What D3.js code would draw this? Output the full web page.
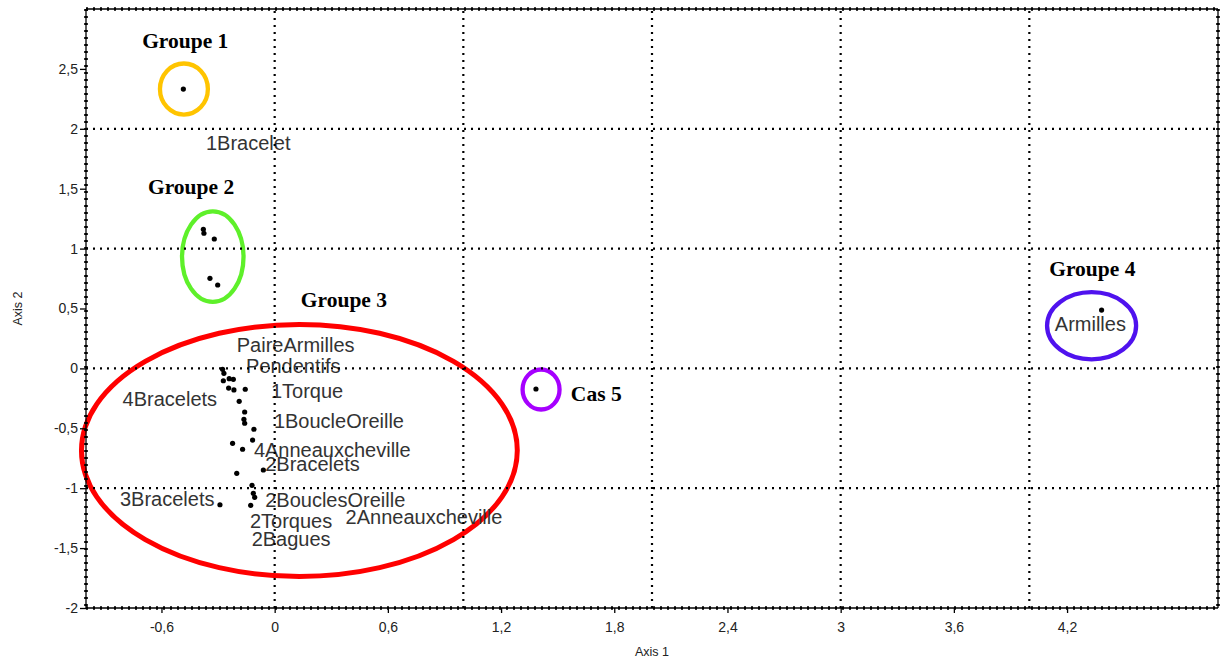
<!DOCTYPE html>
<html>
<head>
<meta charset="utf-8">
<script src="https://cdn.jsdelivr.net/npm/d3@7"></script>
<style>
  html, body { margin: 0; padding: 0; background: #fff; }
  svg { display: block; }
</style>
</head>
<body>
<svg id="chart" width="1220" height="662"></svg>
<script>
// ---------- data ----------
const xDomain = [-1, 5];
const yDomain = [-2, 3];
const xTicks = [-0.6, 0, 0.6, 1.2, 1.8, 2.4, 3, 3.6, 4.2];
const yTicks = [-2, -1.5, -1, -0.5, 0, 0.5, 1, 1.5, 2, 2.5];
const xGrid = [0, 1, 2, 3, 4];
const yGrid = [-1, 0, 1, 2];

// PCA scores (Axis 1, Axis 2)
const pointX = [-0.484,
  -0.378, -0.375, -0.320, -0.343, -0.302,
  -0.276, -0.269, -0.272, -0.241, -0.219, -0.244, -0.216, -0.156, -0.188, -0.159,
  -0.163, -0.159, -0.110, -0.117, -0.223, -0.170, -0.060, -0.201, -0.120, -0.113,
  -0.106, -0.127, -0.290,
  1.385, 4.383];
const pointY = [2.332,
  1.161, 1.128, 1.080, 0.752, 0.696,
  -0.008, -0.041, -0.103, -0.086, -0.091, -0.164, -0.180, -0.174, -0.275, -0.364,
  -0.425, -0.458, -0.508, -0.598, -0.625, -0.675, -0.848, -0.876, -0.976, -1.043,
  -1.076, -1.143, -1.138,
  -0.172, 0.487];

// variable labels (text anchored at data coordinates)
const labelNames = ["1Bracelet", "PaireArmilles", "Pendentifs", "1Torque", "1BoucleOreille",
  "4Anneauxcheville", "2Bracelets", "2BouclesOreille", "2Anneauxcheville", "2Torques",
  "2Bagues", "4Bracelets", "3Bracelets", "Armilles"];
const labelX = [-0.364, -0.201, -0.152, -0.020, -0.004, -0.110, -0.050, -0.050, 0.376, -0.131,
  -0.122, -0.806, -0.820, 4.135];
const labelY = [1.823, 0.139, -0.041, -0.250, -0.500, -0.742, -0.854, -1.154, -1.301, -1.335,
  -1.480, -0.314, -1.146, 0.315];

// group annotations (ellipses in data units)
const groupNames = ["Groupe 1", "Groupe 2", "Groupe 3", "Cas 5", "Groupe 4"];
const groupCX = [-0.481, -0.328, 0.131, 1.412, 4.330];
const groupCY = [2.332, 0.933, -0.685, -0.176, 0.356];
const groupRX = [0.127, 0.163, 1.155, 0.098, 0.236];
const groupRY = [0.213, 0.378, 1.052, 0.167, 0.280];
const groupTitleX = [-0.474, -0.443, 0.367, 1.570, 4.334];
const groupTitleY = [2.672, 1.456, 0.513, -0.270, 0.771];
const groupColors = ["#FFC400", "#5EF02A", "#FF0000", "#A600FF", "#4F12EE"];

// ---------- drawing ----------
const svg = d3.select("#chart");
const x = d3.scaleLinear().domain(xDomain).range([86, 1218]);
const y = d3.scaleLinear().domain(yDomain).range([608, 9]);
const fmt = d => String(d).replace(".", ",");

// ellipses
const groups = groupNames.map((n, i) => ({
  name: n, cx: groupCX[i], cy: groupCY[i], rx: groupRX[i], ry: groupRY[i],
  tx: groupTitleX[i], ty: groupTitleY[i], color: groupColors[i]
}));
svg.append("g").selectAll("ellipse").data(groups).join("ellipse")
  .attr("cx", d => x(d.cx))
  .attr("cy", d => y(d.cy))
  .attr("rx", d => x(d.cx + d.rx) - x(d.cx))
  .attr("ry", d => y(d.cy - d.ry) - y(d.cy))
  .attr("fill", "none")
  .attr("stroke", d => d.color)
  .attr("stroke-width", (d, i) => i === 2 ? 5 : 4.3);

// variable labels
const labels = labelNames.map((n, i) => ({ name: n, x: labelX[i], y: labelY[i] }));
svg.append("g").selectAll("text").data(labels).join("text")
  .attr("x", d => x(d.x))
  .attr("y", d => y(d.y))
  .attr("font-family", "Liberation Sans, Arial, sans-serif")
  .attr("font-size", 20)
  .attr("fill", "#333")
  .text(d => d.name);

// grid lines (dotted)
const grid = svg.append("g").attr("stroke", "#000").attr("stroke-width", 2.2)
  .attr("stroke-dasharray", "2,5");
grid.selectAll("line.v").data(xGrid).join("line").attr("class", "v")
  .attr("x1", d => x(d)).attr("x2", d => x(d))
  .attr("y1", y.range()[0]).attr("y2", y.range()[1]);
grid.selectAll("line.h").data(yGrid).join("line").attr("class", "h")
  .attr("y1", d => y(d)).attr("y2", d => y(d))
  .attr("x1", x.range()[0]).attr("x2", x.range()[1]);

// axes
const xAxis = svg.append("g").attr("transform", `translate(0,${y.range()[0]})`)
  .call(d3.axisBottom(x).tickValues(xTicks).tickFormat(fmt).tickSize(5).tickPadding(9));
const yAxis = svg.append("g").attr("transform", `translate(${x.range()[0]},0)`)
  .call(d3.axisLeft(y).tickValues(yTicks).tickFormat(fmt).tickSize(6).tickPadding(2));
[xAxis, yAxis].forEach(a => {
  a.select(".domain").remove();
  a.selectAll(".tick line").attr("stroke", "#000").attr("stroke-width", 1.3);
  a.selectAll(".tick text").attr("font-family", "Liberation Sans, Arial, sans-serif")
    .attr("font-size", 14).attr("fill", "#222");
});

// frame: solid line with small dotted minor ticks
const x0 = x.range()[0], x1 = x.range()[1], y0 = y.range()[1], y1 = y.range()[0];
const frameLines = [[x0, y0, x1, y0], [x1, y0, x1, y1], [x0, y1, x1, y1], [x0, y0, x0, y1]];
svg.append("g").selectAll("line").data(frameLines).join("line")
  .attr("x1", d => d[0]).attr("y1", d => d[1]).attr("x2", d => d[2]).attr("y2", d => d[3])
  .attr("stroke", "#000").attr("stroke-width", 1.3);
svg.append("g").selectAll("line").data(frameLines).join("line")
  .attr("x1", d => d[0]).attr("y1", d => d[1]).attr("x2", d => d[2]).attr("y2", d => d[3])
  .attr("stroke", "#000").attr("stroke-width", 3.6).attr("stroke-dasharray", "2,5");

// points
const pts = pointX.map((v, i) => ({ x: v, y: pointY[i] }));
svg.append("g").selectAll("circle").data(pts).join("circle")
  .attr("cx", d => x(d.x)).attr("cy", d => y(d.y)).attr("r", 2.6).attr("fill", "#000");

// group titles
svg.append("g").selectAll("text").data(groups).join("text")
  .attr("x", d => x(d.tx)).attr("y", d => y(d.ty))
  .attr("text-anchor", d => d.name === "Cas 5" ? "start" : "middle")
  .attr("font-family", "Liberation Serif, Times New Roman, serif")
  .attr("font-weight", "bold").attr("font-size", 21.5).attr("fill", "#000")
  .text(d => d.name);

// axis titles
svg.append("text").attr("x", (x0 + x1) / 2).attr("y", 656)
  .attr("text-anchor", "middle").attr("font-family", "Liberation Sans, Arial, sans-serif")
  .attr("font-size", 12.5).attr("fill", "#222").text("Axis 1");
svg.append("text").attr("transform", `translate(22,${(y0 + y1) / 2}) rotate(-90)`)
  .attr("text-anchor", "middle").attr("font-family", "Liberation Sans, Arial, sans-serif")
  .attr("font-size", 12.5).attr("fill", "#222").text("Axis 2");
</script>
</body>
</html>
